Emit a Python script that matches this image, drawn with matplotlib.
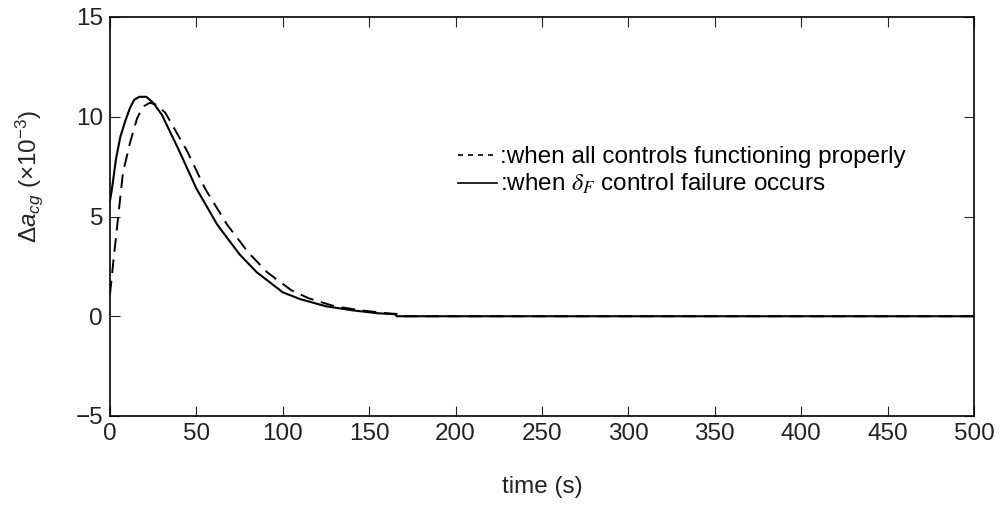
import matplotlib
matplotlib.use('Agg')
import matplotlib.pyplot as plt
import numpy as np

plt.rcParams['font.family'] = ['Liberation Sans', 'DejaVu Sans']
plt.rcParams['mathtext.fontset'] = 'custom'
plt.rcParams['mathtext.rm'] = 'Liberation Sans'
plt.rcParams['mathtext.it'] = 'Liberation Sans:italic'

# delta_F control failure (solid)
t_fail = [0, 1, 3.5, 6, 8.7, 11.6, 14, 17, 21, 25, 30, 40, 50, 62, 75, 85,
          100, 110, 125, 140, 155, 165, 166, 500]
a_fail = [5.8, 6.3, 7.9, 9.0, 9.75, 10.45, 10.85, 11.0, 11.0, 10.7, 10.1, 8.3,
          6.4, 4.6, 3.1, 2.2, 1.2, 0.86, 0.5, 0.3, 0.15, 0.1, 0.0, 0.0]

# all controls functioning properly (dashed)
t_ok = [0, 2, 4, 7.5, 11.6, 15.6, 19, 23, 27, 32, 44.5, 55, 67.7, 80, 91,
        105, 115, 130, 145, 160, 169, 170, 500]
a_ok = [1.1, 2.8, 4.4, 7.2, 8.7, 9.9, 10.5, 10.7, 10.6, 10.2, 8.3, 6.4, 4.6,
        3.2, 2.2, 1.3, 0.9, 0.5, 0.3, 0.15, 0.1, 0.0, 0.0]

fig = plt.figure(figsize=(10.01, 5.07), dpi=100)
ax = fig.add_axes([110 / 1001, 1 - 416 / 507, 864 / 1001, 399 / 507])

ax.plot(t_ok, a_ok, color='black', linestyle=(0, (7, 4)), linewidth=1.4,
        label=':when all controls functioning properly')
ax.plot(t_fail, a_fail, color='black', linestyle='-', linewidth=1.5,
        label=r':when $\delta_F$ control failure occurs')

ax.set_xlim(0, 500)
ax.set_ylim(-5, 15)
ax.set_xticks(np.arange(0, 501, 50))
ax.set_yticks([-5, 0, 5, 10, 15])
ax.set_yticklabels(['\u22125', '0', '5', '10', '15'])
ax.tick_params(direction='in', top=True, right=True, length=7, width=0.8,
               labelsize=17.5, pad=5, colors='#222222')
for s in ax.spines.values():
    s.set_linewidth(1.2)

ax.set_xlabel('time (s)', fontsize=17.5, labelpad=22, color='#222222')
ax.set_ylabel(r'$\Delta a_{cg}$ ($\times10^{-3}$)', fontsize=17.5,
              color='#222222')
ax.yaxis.set_label_coords(-0.075, 0.60)

leg = ax.legend(loc='upper left', bbox_to_anchor=(0.392, 0.70), frameon=False,
                fontsize=17.5, handlelength=1.6, handletextpad=0.1,
                labelspacing=0.15, borderaxespad=0)
leg.get_texts()[1].set_math_fontfamily('stix')
for line in leg.get_lines():
    line.set_linewidth(1.2)
leg.get_lines()[0].set_linestyle((0, (3, 3)))

plt.savefig('out.png', dpi=100)
